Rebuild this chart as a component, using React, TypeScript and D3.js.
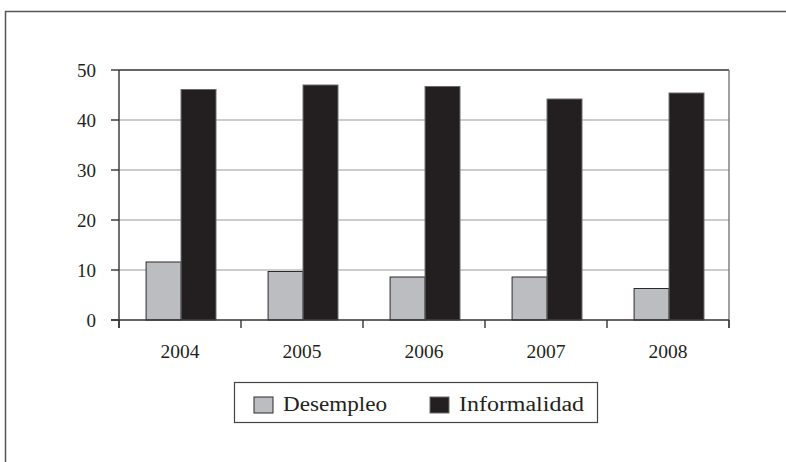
import React from "react";
import * as d3 from "d3";

const years = ["2004", "2005", "2006", "2007", "2008"];
const seriesNames = ["Desempleo", "Informalidad"];
const desempleo = [11.6, 9.7, 8.6, 8.6, 6.3];
const informalidad = [46.1, 47.0, 46.7, 44.2, 45.4];
const yTicks = [0, 10, 20, 30, 40, 50];
const colors = ["#bcbdc0", "#231f20"];
const strokes = ["#2a2a2a", "#6a6a6a"];

const W = 786;
const H = 462;
const left = 119;
const right = 729;
const top = 70;
const bottom = 320;
const FONT = "'Liberation Serif', 'DejaVu Serif', serif";

export default function App() {
  const x0 = d3.scaleBand<string>().domain(years).range([left, right]).padding(0);
  const bw = x0.bandwidth();
  const x1 = d3
    .scaleBand<string>()
    .domain(seriesNames)
    .range([bw * 0.222, bw * 0.795])
    .padding(0);
  const y = d3.scaleLinear().domain([0, 50]).range([bottom, top]);
  const data = [desempleo, informalidad];
  const boundaries = [...years.map((d) => x0(d) as number), right];
  const legendLen = [104, 125];

  return (
    <svg
      width={W}
      height={H}
      style={{ position: "absolute", left: 0, top: 0, background: "#fff" }}
      fontFamily={FONT}
    >
      {/* outer frame */}
      <path d={`M5.5,${H} V11.5 H${W}`} fill="none" stroke="#555" strokeWidth={1.5} />

      {/* gridlines */}
      {yTicks
        .filter((t) => t > 0 && t < 50)
        .map((t) => (
          <line key={t} x1={left} x2={right} y1={y(t)} y2={y(t)} stroke="#9a9a9a" strokeWidth={1.2} />
        ))}

      {/* bars */}
      {seriesNames.map((s, si) =>
        years.map((yr, i) => (
          <rect
            key={s + yr}
            x={(x0(yr) as number) + (x1(s) as number)}
            y={y(data[si][i])}
            width={x1.bandwidth()}
            height={y(0) - y(data[si][i])}
            fill={colors[si]}
            stroke={strokes[si]}
            strokeWidth={1}
          />
        ))
      )}

      {/* plot border: top and right */}
      <line x1={left} x2={right} y1={top} y2={top} stroke="#333" strokeWidth={1.4} />
      <line x1={right} x2={right} y1={top} y2={bottom + 8} stroke="#777" strokeWidth={1.4} />

      {/* y axis */}
      <line x1={left} x2={left} y1={top} y2={bottom + 8} stroke="#333" strokeWidth={1.4} />
      {yTicks.map((t) => (
        <g key={t}>
          <line x1={left - 8} x2={left} y1={y(t)} y2={y(t)} stroke="#333" strokeWidth={1.4} />
          <text x={96} y={y(t)} dy="0.35em" textAnchor="end" fontSize={19} fill="#231f20">
            {t}
          </text>
        </g>
      ))}

      {/* x axis */}
      <line x1={left - 8} x2={right} y1={bottom} y2={bottom} stroke="#333" strokeWidth={1.4} />
      {boundaries.map((b, i) => (
        <line key={i} x1={b} x2={b} y1={bottom} y2={bottom + 8} stroke="#333" strokeWidth={1.4} />
      ))}
      {years.map((yr) => (
        <text
          key={yr}
          x={(x0(yr) as number) + bw / 2}
          y={358}
          textAnchor="middle"
          fontSize={19}
          fill="#231f20"
          textLength={39}
          lengthAdjust="spacingAndGlyphs"
        >
          {yr}
        </text>
      ))}

      {/* legend */}
      <rect x={234.5} y={382.5} width={363} height={40} fill="#fff" stroke="#444" strokeWidth={1.2} />
      {seriesNames.map((s, si) => {
        const sx = si === 0 ? 254 : 430;
        return (
          <g key={s}>
            <rect x={sx} y={397} width={19} height={16} fill={colors[si]} stroke={strokes[si]} strokeWidth={1} />
            <text
              x={sx + 29}
              y={411}
              fontSize={20}
              fill="#231f20"
              textLength={legendLen[si]}
              lengthAdjust="spacingAndGlyphs"
            >
              {s}
            </text>
          </g>
        );
      })}
    </svg>
  );
}
